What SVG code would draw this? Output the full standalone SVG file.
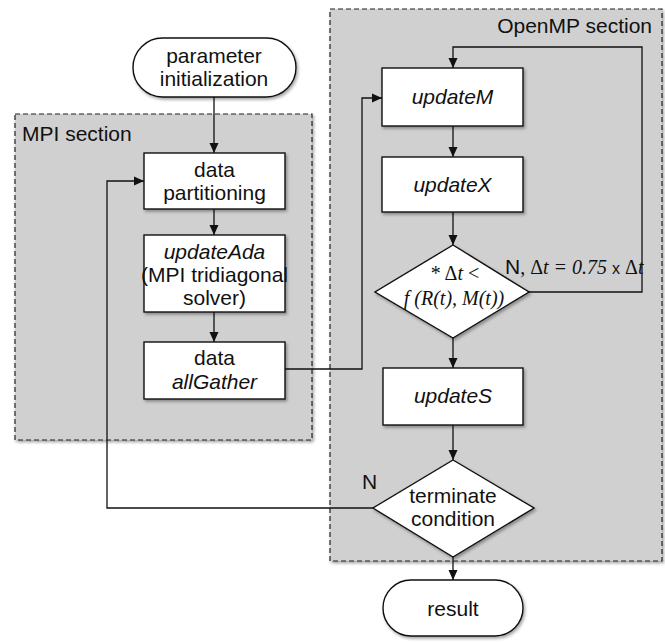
<svg xmlns="http://www.w3.org/2000/svg" width="665" height="642" viewBox="0 0 665 642">
  <defs>
    <filter id="shadow" x="-10%" y="-10%" width="130%" height="130%">
      <feDropShadow dx="1.5" dy="2" stdDeviation="1.5" flood-color="#000" flood-opacity="0.35"/>
    </filter>
    <marker id="arrow" viewBox="0 0 10 10" refX="10" refY="5" markerWidth="10" markerHeight="10" markerUnits="userSpaceOnUse" orient="auto">
      <path d="M0,0.5 L10,5 L0,9.5 Z" fill="#111"/>
    </marker>
  </defs>
  <style>
    .section { fill: #d0d0d0; stroke: #222; stroke-width: 1.2; stroke-dasharray: 5 3; }
    .node { fill: #fff; stroke: #111; stroke-width: 1.4; filter: url(#shadow); }
    .label { font-family: "Liberation Sans", Arial, sans-serif; font-size: 21px; fill: #111; text-anchor: middle; }
    .it { font-style: italic; }
    .math { font-family: "Liberation Serif", "Times New Roman", serif; font-style: italic; font-size: 20px; fill: #111; }
    .up { font-style: normal; }
    .title { font-family: "Liberation Sans", Arial, sans-serif; font-size: 21px; fill: #111; }
    .conn { fill: none; stroke: #111; stroke-width: 1.3; }
  </style>

  <rect fill="#fff" x="0" y="0" width="665" height="642"/>

  <!-- parallel sections -->
  <g id="mpi-section">
    <rect class="section" x="15" y="114" width="297" height="326" filter="url(#shadow)"/>
    <text class="title" x="22" y="141">MPI section</text>
  </g>
  <g id="openmp-section">
    <rect class="section" x="330" y="9" width="332" height="552" filter="url(#shadow)"/>
    <text class="title" x="652" y="33" text-anchor="end">OpenMP section</text>
  </g>

  <!-- connectors -->
  <g id="connectors">
    <path class="conn" d="M214,97 V153" marker-end="url(#arrow)"/>
    <path class="conn" d="M214,209 V235" marker-end="url(#arrow)"/>
    <path class="conn" d="M214,312 V342" marker-end="url(#arrow)"/>
    <path class="conn" d="M285,369 H362 V98 H382" marker-end="url(#arrow)"/>
    <path class="conn" d="M453,126 V157" marker-end="url(#arrow)"/>
    <path class="conn" d="M453,212 V245" marker-end="url(#arrow)"/>
    <path class="conn" d="M529,292 H642 V47 H453 V68" marker-end="url(#arrow)"/>
    <path class="conn" d="M453,338 V368" marker-end="url(#arrow)"/>
    <path class="conn" d="M453,425 V460" marker-end="url(#arrow)"/>
    <path class="conn" d="M373,508 H107 V181 H144" marker-end="url(#arrow)"/>
    <path class="conn" d="M453,557 V580" marker-end="url(#arrow)"/>
    <text class="title" x="505" y="274">N<tspan class="math up" font-size="17">, Δ</tspan><tspan class="math" font-size="17">t = 0.75 </tspan><tspan font-size="16">x</tspan><tspan class="math up" font-size="17"> Δ</tspan><tspan class="math" font-size="17">t</tspan></text>
    <text class="title" x="362" y="489">N</text>
  </g>

  <!-- nodes -->
  <g id="param-init">
    <rect class="node" x="133" y="38" width="163" height="59" rx="29.5"/>
    <text class="label" x="214" y="63">parameter</text>
    <text class="label" x="214" y="86">initialization</text>
  </g>
  <g id="data-partitioning">
    <rect class="node" x="144" y="153" width="141" height="56"/>
    <text class="label" x="214.5" y="177">data</text>
    <text class="label" x="214.5" y="200">partitioning</text>
  </g>
  <g id="update-ada">
    <rect class="node" x="144" y="235" width="141" height="77"/>
    <text class="label it" x="214.5" y="259">updateAda</text>
    <text class="label" x="214.5" y="282">(MPI tridiagonal</text>
    <text class="label" x="214.5" y="305">solver)</text>
  </g>
  <g id="data-allgather">
    <rect class="node" x="144" y="342" width="141" height="57"/>
    <text class="label" x="214.5" y="365">data</text>
    <text class="label it" x="214.5" y="389">allGather</text>
  </g>
  <g id="update-m">
    <rect class="node" x="382" y="68" width="141" height="58"/>
    <text class="label it" x="452.5" y="104">updateM</text>
  </g>
  <g id="update-x">
    <rect class="node" x="382" y="157" width="141" height="55"/>
    <text class="label it" x="452.5" y="192">updateX</text>
  </g>
  <g id="dt-check">
    <polygon class="node" points="453,245 529,292 453,338 375,292"/>
    <text class="math" x="455" y="280" text-anchor="middle"><tspan class="up">* Δ</tspan>t <tspan class="up">&lt;</tspan></text>
    <text class="math" x="454" y="305" text-anchor="middle">f  (R(t), M(t))</text>
  </g>
  <g id="update-s">
    <rect class="node" x="383" y="368" width="140" height="57"/>
    <text class="label it" x="453" y="403">updateS</text>
  </g>
  <g id="terminate">
    <polygon class="node" points="453,460 534,508 453,557 373,508"/>
    <text class="label" x="453" y="503">terminate</text>
    <text class="label" x="453" y="526">condition</text>
  </g>
  <g id="result">
    <rect class="node" x="383" y="580" width="140" height="56" rx="28"/>
    <text class="label" x="453" y="616">result</text>
  </g>
</svg>
